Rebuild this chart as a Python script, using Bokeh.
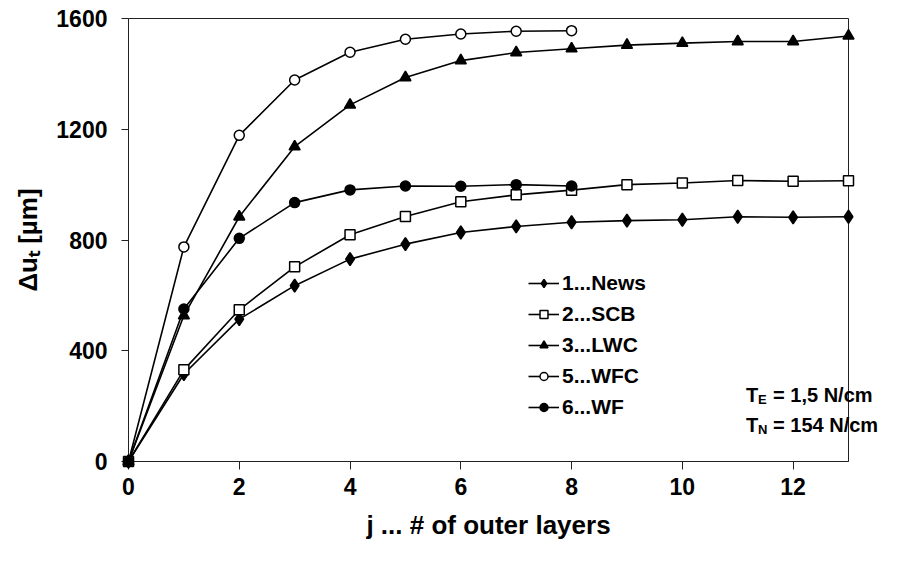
from bokeh.plotting import figure
from bokeh.models import FixedTicker, Range1d, Legend
from bokeh.core.properties import value
from bokeh.embed import file_html
from bokeh.resources import INLINE

FONT = "Liberation Sans"

layers = list(range(0, 14))
news = [0, 316, 514, 635, 731, 785, 827, 849, 864, 870, 873, 884, 882, 884]
scb = [0, 331, 548, 703, 819, 885, 938, 963, 980, 1000, 1006, 1015, 1012, 1014]
lwc = [0, 527, 884, 1137, 1288, 1387, 1448, 1477, 1491, 1504, 1511, 1517, 1517, 1537]
layers_short = list(range(0, 9))
wfc = [0, 775, 1178, 1378, 1478, 1525, 1544, 1554, 1556]
wf = [0, 551, 806, 935, 981, 995, 994, 1000, 995]

x_ticks = [0, 2, 4, 6, 8, 10, 12]
y_ticks = [0, 400, 800, 1200, 1600]

p = figure(width=885, height=545, output_backend="svg", toolbar_location=None,
           x_range=Range1d(0, 13), y_range=Range1d(0, 1600),
           min_border_left=128, min_border_right=37, min_border_top=18, min_border_bottom=84)

p.xgrid.visible = False
p.ygrid.visible = False
p.outline_line_color = "#222222"
p.outline_line_width = 1
p.background_fill_color = "white"
p.border_fill_color = "white"

series = [
    ("1...News", layers, news, "diamond", 13, "black"),
    ("2...SCB", layers, scb, "square", 10, "white"),
    ("3...LWC", layers, lwc, "triangle", 11, "black"),
    ("5...WFC", layers_short, wfc, "circle", 10, "white"),
    ("6...WF", layers_short, wf, "circle", 10, "black"),
]

items = []
for name, xs, ys, marker, size, fill in series:
    r1 = p.line(xs, ys, line_color="black", line_width=1.6)
    r2 = p.scatter(xs, ys, marker=marker, size=size, fill_color=fill,
                   line_color="black", line_width=1.5, level="overlay")
    items.append((name, [r1, r2]))

legend = Legend(items=items, location=(400, 42), margin=0, padding=8,
                border_line_color=None, background_fill_alpha=0,
                glyph_width=31, glyph_height=20, label_height=20, spacing=7,
                label_standoff=3, label_text_font=FONT, label_text_font_style="bold",
                label_text_font_size="21px", label_text_color="black")
p.add_layout(legend)

p.xaxis.ticker = FixedTicker(ticks=x_ticks)
p.yaxis.ticker = FixedTicker(ticks=y_ticks)
for ax in (p.xaxis, p.yaxis):
    ax.minor_tick_line_color = None
    ax.major_tick_in = 0
    ax.axis_line_color = "#222222"
    ax.major_tick_line_color = "#222222"
    ax.major_label_text_font = FONT
    ax.major_label_text_font_style = "bold"
    ax.major_label_text_font_size = "23px"
    ax.major_label_text_color = "black"
    ax.axis_label_text_font = FONT
    ax.axis_label_text_font_style = "bold"
    ax.axis_label_text_font_size = "26px"
    ax.axis_label_text_color = "black"
p.xaxis.major_tick_out = 8
p.yaxis.major_tick_out = 7
p.xaxis.major_label_standoff = 8
p.yaxis.major_label_standoff = 14
p.xaxis.axis_label = "j ... # of outer layers"
p.yaxis.axis_label = "Δuₜ [µm]"
p.xaxis.axis_label_standoff = 12
p.yaxis.axis_label_standoff = 10

def annot(y, sub, rest):
    kw = dict(text_font=value(FONT), text_font_style="bold", text_color="black",
              text_baseline="middle", text_align="left", level="overlay")
    p.text(x=[11.15], y=[y], text=["T"], text_font_size=value("20px"), **kw)
    p.text(x=[11.15], y=[y], x_offset=12, y_offset=5, text=[sub],
           text_font_size=value("13px"), **kw)
    p.text(x=[11.15], y=[y], x_offset=27, text=[rest], text_font_size=value("20px"), **kw)

annot(241, "E", "= 1,5 N/cm")
annot(133, "N", "= 154 N/cm")

open("out.html", "w").write(file_html(p, INLINE))
